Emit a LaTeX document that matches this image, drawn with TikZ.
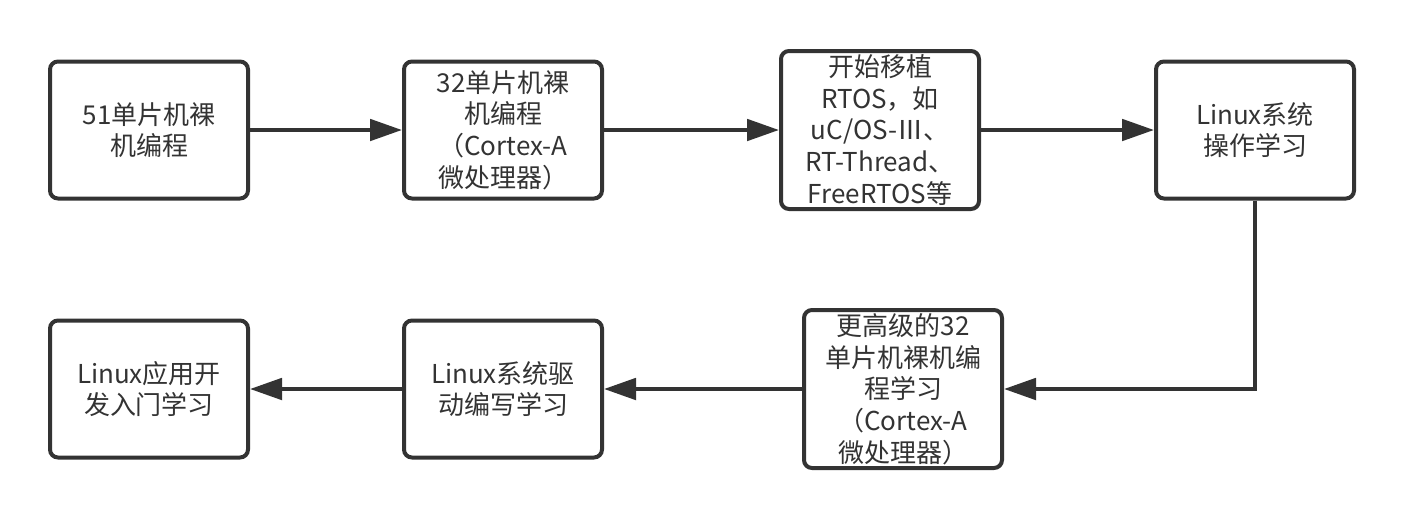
\documentclass[tikz,border=0pt]{standalone}
\usepackage{fontspec}
\setmainfont{Noto Sans CJK SC}
\usepackage{tikz}
\usetikzlibrary{positioning, arrows.meta}

\definecolor{inkgray}{HTML}{333333}

\begin{document}
\begin{tikzpicture}[
  font=\fontsize{19.5pt}{23.75pt}\selectfont,
  box/.style={draw=inkgray, text=inkgray, line width=3pt, rounded corners=6pt,
    minimum width=148.5pt, minimum height=102.75pt, align=center,
    inner sep=1pt},
  tallbox/.style={box, minimum height=118.5pt},
  arrow/.style={-{Triangle[length=24pt, width=16pt]}, line width=3pt, inkgray},
]
  \useasboundingbox (0,0) rectangle (1053pt,-388.5pt);

  % top row
  \node[box] (b1) at (111.75pt,-97.5pt) {51单片机裸\\机编程};
  \node[box, right=114pt of b1] (b2) {32单片机裸\\机编程\\（Cortex-A\\微处理器）};
  \node[tallbox, right=131.25pt of b2] (b3) {开始移植\\RTOS，如\\uC/OS-Ⅲ、\\RT-Thread、\\FreeRTOS等};
  \node[box, right=129.75pt of b3] (b4) {Linux系统\\操作学习};

  % bottom row
  \node[box, below=88.5pt of b1] (b7) {Linux应用开\\发入门学习};
  \node[box, right=114pt of b7] (b6) {Linux系统驱\\动编写学习};
  \node[tallbox, right=148.5pt of b6] (b5) {更高级的32\\单片机裸机编\\程学习\\（Cortex-A\\微处理器）};

  \foreach \x/\y in {b1/b2, b2/b3, b3/b4, b5/b6, b6/b7} \draw[arrow] (\x) -- (\y);
  \draw[arrow] (b4.south) |- (b5.east);
\end{tikzpicture}
\end{document}
